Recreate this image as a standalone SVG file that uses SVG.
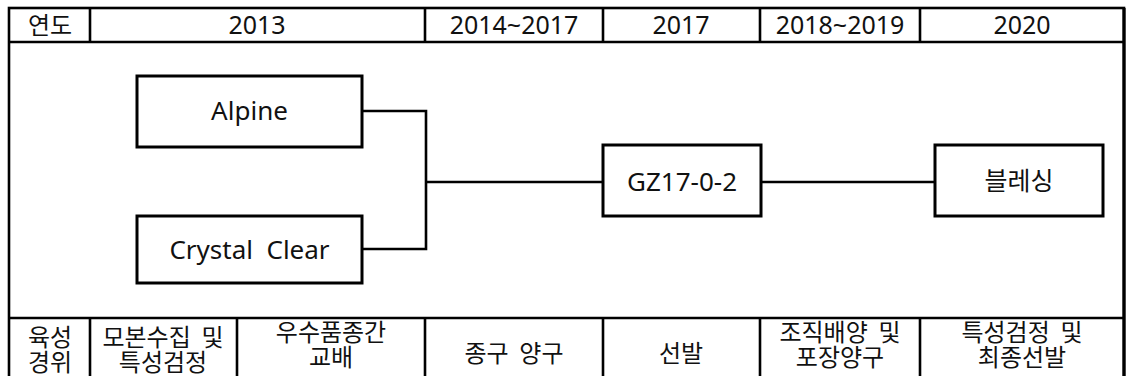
<svg xmlns="http://www.w3.org/2000/svg" width="1127" height="376" viewBox="0 0 1127 376">
<style>
.ln{stroke:#000;stroke-width:2.6;fill:none}
.bx{stroke:#000;stroke-width:3;fill:#fff}
.t{font-family:"Noto Sans","Noto Sans CJK KR",sans-serif;font-size:24px;fill:#111;text-anchor:middle}
.h{font-size:25px}
.n{font-size:26px}
.k{font-family:"Noto Sans CJK KR","Noto Sans",sans-serif;font-size:24px}
</style>
<rect width="1127" height="376" fill="#fff"/>
<g id="table">
<rect x="9" y="8" width="1115" height="380" class="ln"/>
<line x1="9" y1="42" x2="1124" y2="42" class="ln"/>
<line x1="9" y1="318" x2="1124" y2="318" class="ln"/>
<line x1="90" y1="8" x2="90" y2="42" class="ln"/>
<line x1="425" y1="8" x2="425" y2="42" class="ln"/>
<line x1="603" y1="8" x2="603" y2="42" class="ln"/>
<line x1="760" y1="8" x2="760" y2="42" class="ln"/>
<line x1="920" y1="8" x2="920" y2="42" class="ln"/>
<line x1="90" y1="318" x2="90" y2="376" class="ln"/>
<line x1="237" y1="318" x2="237" y2="376" class="ln"/>
<line x1="425" y1="318" x2="425" y2="376" class="ln"/>
<line x1="603" y1="318" x2="603" y2="376" class="ln"/>
<line x1="760" y1="318" x2="760" y2="376" class="ln"/>
<line x1="920" y1="318" x2="920" y2="376" class="ln"/>
<line x1="1124" y1="8" x2="1124" y2="376" stroke="#000" stroke-width="3.2"/>
</g>
<g id="header">
<text x="50" y="34" class="t k">연도</text>
<text x="257" y="34" class="t h">2013</text>
<text x="514" y="34" class="t h">2014~2017</text>
<text x="681" y="34" class="t h">2017</text>
<text x="840" y="34" class="t h">2018~2019</text>
<text x="1022" y="34" class="t h">2020</text>
</g>
<g id="footer">
<text x="50" y="346" class="t k">육성</text>
<text x="50" y="371" class="t k">경위</text>
<text x="163" y="346" class="t k" xml:space="preserve">모본수집  및</text>
<text x="163" y="371" class="t k">특성검정</text>
<text x="331" y="341" class="t k">우수품종간</text>
<text x="331" y="366" class="t k">교배</text>
<text x="514" y="362" class="t k" xml:space="preserve">종구  양구</text>
<text x="681" y="362" class="t k">선발</text>
<text x="840" y="341" class="t k" xml:space="preserve">조직배양  및</text>
<text x="840" y="366" class="t k">포장양구</text>
<text x="1022" y="341" class="t k" xml:space="preserve">특성검정  및</text>
<text x="1022" y="366" class="t k">최종선발</text>
</g>
<g id="connectors">
<polyline points="362,111 426,111 426,249 362,249" class="ln"/>
<line x1="426" y1="182" x2="603" y2="182" class="ln"/>
<line x1="761" y1="182" x2="935" y2="182" class="ln"/>
</g>
<g id="alpine">
<rect x="137" y="76" width="225" height="71" class="bx"/>
<text x="249.5" y="120" class="t n">Alpine</text>
</g>
<g id="crystal">
<rect x="137" y="216" width="225" height="67" class="bx"/>
<text x="249.5" y="259" class="t n" xml:space="preserve">Crystal  Clear</text>
</g>
<g id="gz17">
<rect x="603" y="145" width="158" height="71" class="bx"/>
<text x="682" y="191" class="t n">GZ17-0-2</text>
</g>
<g id="blessing">
<rect x="935" y="145" width="168" height="71" class="bx"/>
<text x="1019" y="190" class="t k" style="font-size:25px">블레싱</text>
</g>
</svg>
